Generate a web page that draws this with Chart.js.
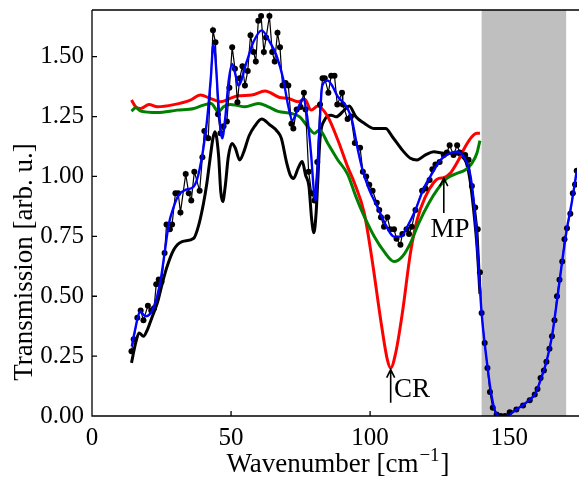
<!DOCTYPE html>
<html>
<head>
<meta charset="utf-8">
<script src="https://cdn.jsdelivr.net/npm/chart.js@4.4.0/dist/chart.umd.min.js"></script>
<style>
  html, body { margin: 0; padding: 0; background: #fff; }
  #wrap { width: 581px; height: 479px; }
</style>
</head>
<body>
<div id="wrap"><canvas id="chart" width="581" height="479"></canvas></div>
<script>
// measured points (black dots)
const rawX = [14.2, 15.0, 16.3, 17.5, 18.5, 20.1, 21.3, 22.3, 23.1, 24.0, 25.0, 26.1, 26.8, 28.0, 28.8, 30.0, 31.0, 31.8,
  33.7, 34.8, 35.7, 36.8, 38.7, 39.7, 40.4, 41.8, 43.5, 44.4, 45.3, 46.2, 47.3, 48.5, 49.4, 50.4, 51.4, 52.3, 53.1,
  54.1, 55.0, 56.0, 57.0, 58.1, 58.9, 59.8, 60.8, 61.8, 62.6, 63.8, 64.8, 65.7, 66.7, 67.6, 68.5, 69.6, 70.6, 71.7,
  72.4, 73.6, 75.0, 76.2, 76.8, 77.9, 79.0, 80.0, 81.0, 82.0, 82.9, 83.7, 85.0, 86.0, 87.2, 88.2, 89.9, 90.2, 91.9,
  93.1, 94.5, 96.4, 97.4, 98.6, 99.7, 100.9, 102.4, 103.3, 103.9, 105.0, 106.2, 107.2, 108.6, 109.5, 110.9, 111.6,
  113.1, 114.0, 115.0, 116.3, 118.7, 119.9, 121.4, 122.4, 123.5, 125.0, 126.5, 127.6, 128.6, 130.0, 131.3, 132.2,
  134.2, 135.4, 136.6, 137.8, 138.7, 139.5, 140.1, 141.2, 142.2, 143.1, 144.1, 145.5, 147.0, 148.5, 150.2, 152.6,
  155.0, 157.4, 159.2, 160.2, 161.3, 162.5, 163.4, 164.5, 165.4, 166.3, 167.2, 168.1, 169.1, 169.9, 170.8, 172.0,
  172.9, 173.7, 174.3];
const rawY = [0.27, 0.32, 0.41, 0.44, 0.40, 0.46, 0.44, 0.45, 0.55, 0.57, 0.56, 0.68, 0.80, 0.78, 0.80, 0.93, 0.93, 0.85,
  1.01, 0.93, 0.90, 1.02, 0.94, 1.08, 1.19, 1.16, 1.61, 1.56, 1.26, 1.18, 1.21, 1.23, 1.37, 1.54, 1.45, 1.31, 1.41,
  1.46, 1.38, 1.44, 1.59, 1.52, 1.48, 1.65, 1.67, 1.52, 1.58, 1.67, 1.52, 1.48, 1.60, 1.54, 1.38, 1.39, 1.38, 1.22,
  1.20, 1.28, 1.29, 1.35, 1.28, 1.02, 0.93, 0.90, 1.06, 1.30, 1.41, 1.41, 1.35, 1.42, 1.42, 1.30, 1.35, 1.30, 1.24,
  1.25, 1.14, 1.12, 1.02, 1.00, 0.965, 0.94, 0.89, 0.86, 0.83, 0.79, 0.83, 0.78, 0.78, 0.74, 0.715, 0.76,
  0.78, 0.76, 0.79, 0.86, 0.94, 0.95, 0.985, 1.03, 1.05, 1.06, 1.09, 1.10, 1.13, 1.09, 1.13, 1.10,
  1.09, 1.07, 0.96, 0.87, 0.78, 0.60, 0.43, 0.305, 0.20, 0.10, 0.034, 0.006, 0.0, 0.0, 0.016, 0.027,
  0.044, 0.066, 0.09, 0.113, 0.159, 0.19, 0.226, 0.281, 0.333, 0.40, 0.50, 0.569, 0.645, 0.738, 0.784, 0.844,
  0.93, 0.967, 1.024];

// smooth fit (blue)
const fitX = [14.3, 15.5, 17.3, 19.3, 22.3, 24.7, 26.1, 27.6, 29.4, 31.2, 33.6, 36.6, 38.7, 41.3, 42.8, 43.6, 44.3,
  45.5, 46.8, 47.9, 49.1, 50.4, 51.5, 52.6, 55.6, 58.0, 61.0, 64.0, 66.3, 68.7, 70.5, 72.0, 74.1, 75.9, 77.3, 78.8,
  79.8, 80.4, 81.6, 82.8, 84.8, 86.6, 88.4, 90.1, 91.9, 93.5, 95.5, 97.3, 99.7, 102.6, 105.6, 108.6, 111.0, 113.4,
  116.3, 119.3, 122.3, 125.3, 128.8, 131.2, 133.6, 135.9, 137.2, 139.0, 140.1, 141.9, 143.7, 145.5, 147.5, 150.0,
  152.6, 155.0, 157.4, 159.5, 161.3, 163.4, 165.4, 167.2, 169.0, 170.8, 172.5, 174.3];
const fitY = [0.29, 0.36, 0.437, 0.416, 0.457, 0.569, 0.68, 0.80, 0.874, 0.923, 0.944, 0.958, 1.03, 1.228, 1.423, 1.55, 1.506,
  1.298, 1.159, 1.242, 1.395, 1.47, 1.43, 1.38, 1.478, 1.56, 1.61, 1.56, 1.506, 1.41, 1.298, 1.235, 1.284, 1.326, 1.256, 1.09,
  0.937, 0.90, 1.159, 1.38, 1.40, 1.374, 1.333, 1.312, 1.284, 1.235, 1.117, 1.027, 0.944, 0.874, 0.798, 0.749, 0.749, 0.791,
  0.86, 0.951, 1.013, 1.069, 1.097, 1.103, 1.083, 1.013, 0.902, 0.624, 0.43, 0.235, 0.083, 0.006, -0.005, 0.005,
  0.027, 0.046, 0.068, 0.095, 0.15, 0.226, 0.333, 0.48, 0.64, 0.784, 0.89, 1.024];

// black thick curve
const refX = [14.2, 15.7, 16.9, 18.5, 19.9, 21.7, 23.5, 25.3, 27.0, 29.4, 32.4, 36.6, 38.4, 40.1, 41.3, 42.3, 43.5, 44.2,
  45.5, 46.3, 47.0, 47.9, 49.0, 50.3, 51.5, 53.1, 54.5, 56.5, 58.5, 61.0, 64.0, 66.5, 68.1, 69.9, 71.3, 72.5, 74.1,
  75.6, 76.8, 78.0, 79.0, 79.8, 80.6, 81.2, 82.0, 83.6, 86.0, 87.8, 90.7, 92.5, 94.9, 97.9, 101.5, 105.6, 108.0,
  111.6, 114.5, 116.9, 119.9, 122.9, 126.5, 130.0, 133.0, 134.5, 136.0, 137.5, 138.5, 139.5];
const refY = [0.222, 0.305, 0.347, 0.333, 0.36, 0.416, 0.472, 0.555, 0.624, 0.694, 0.728, 0.742, 0.798, 0.888, 0.972, 1.06, 1.16, 1.187,
  1.09, 0.937, 0.895, 0.958, 1.08, 1.138, 1.12, 1.069, 1.10, 1.17, 1.21, 1.24, 1.215, 1.19, 1.159, 1.062, 1.006, 0.992, 1.034,
  1.062, 1.006, 0.96, 0.82, 0.765, 0.85, 0.985, 1.159, 1.235, 1.256, 1.249, 1.277, 1.294, 1.249, 1.222, 1.20, 1.20, 1.166,
  1.11, 1.076, 1.069, 1.09, 1.103, 1.097, 1.097, 1.083, 1.06, 0.98, 0.83, 0.70, 0.51];

// red curve
const redX = [14.2, 15.7, 17.5, 20.5, 23.5, 29.4, 35.4, 39.0, 42.5, 46.1, 49.7, 52.6, 57.4, 62.2, 67.5, 70.5, 74.1, 76.5,
  78.8, 81.2, 84.8, 88.4, 91.9, 94.3, 97.9, 100.9, 103.8, 106.2, 107.4, 109.2, 111.6, 114.5, 116.9, 119.9, 122.9,
  124.7, 126.5, 128.8, 131.8, 134.2, 136.6, 138.4, 139.5];
const redY = [1.319, 1.291, 1.284, 1.30, 1.291, 1.30, 1.319, 1.34, 1.326, 1.312, 1.326, 1.337, 1.34, 1.357, 1.33, 1.326, 1.312, 1.322,
  1.277, 1.294, 1.249, 1.152, 1.041, 0.975, 0.847, 0.638, 0.402, 0.235, 0.20, 0.263, 0.43, 0.68, 0.819, 0.916, 0.975,
  0.992, 0.995, 1.013, 1.069, 1.124, 1.166, 1.18, 1.18];

// green curve
const greenX = [14.2, 15.7, 17.5, 23.5, 30.6, 36.6, 40.1, 42.8, 45.5, 47.3, 49.7, 51.5, 55.0, 59.8, 63.4, 66.9, 71.7,
  74.7, 77.6, 80.0, 81.8, 84.8, 88.4, 91.9, 94.9, 97.9, 101.5, 105.0, 108.6, 111.6, 114.5, 117.5, 121.1, 124.1,
  127.6, 131.2, 134.2, 136.6, 138.4, 139.5];
const greenY = [1.273, 1.287, 1.273, 1.267, 1.277, 1.284, 1.298, 1.305, 1.27, 1.291, 1.30, 1.298, 1.291, 1.305, 1.291, 1.272, 1.263,
  1.249, 1.208, 1.18, 1.194, 1.138, 1.069, 1.01, 0.916, 0.833, 0.749, 0.687, 0.645, 0.666, 0.722, 0.805, 0.888, 0.944,
  0.992, 1.013, 1.027, 1.055, 1.097, 1.15];

// shaded range and annotations
const bandRange = [140.1, 170.5];
const noteLabels = ['CR', 'MP'];
const arrowX = [107.4, 126.5];
const arrowFrom = [0.055, 0.847];
const arrowTo = [0.194, 0.993];
const noteX = [108.6, 121.7];
const noteY = [0.081, 0.749];

const xTicks = [0, 50, 100, 150];
const yTicks = [0, 0.25, 0.5, 0.75, 1.0, 1.25, 1.5];

const serif = '"Liberation Serif", "DejaVu Serif", serif';
const pts = (xs, ys) => xs.map((x, i) => ({x: x, y: ys[i]}));

const decor = {
  id: 'decor',
  beforeDatasetsDraw(chart) {
    const {ctx, chartArea: a, scales: {x}} = chart;
    const x0 = x.getPixelForValue(bandRange[0]);
    const x1 = x.getPixelForValue(bandRange[1]);
    ctx.save();
    ctx.fillStyle = '#bfbfbf';
    ctx.fillRect(x0, a.top, x1 - x0, a.bottom - a.top);
    ctx.restore();
  },
  afterDatasetsDraw(chart) {
    const {ctx, scales: {x, y}} = chart;
    ctx.save();
    ctx.strokeStyle = '#000';
    ctx.fillStyle = '#000';
    ctx.lineWidth = 1.6;
    noteLabels.forEach((t, i) => {
      const px = x.getPixelForValue(arrowX[i]);
      const y0 = y.getPixelForValue(arrowFrom[i]);
      const y1 = y.getPixelForValue(arrowTo[i]);
      ctx.beginPath();
      ctx.moveTo(px, y0);
      ctx.lineTo(px, y1);
      ctx.moveTo(px - 4, y1 + 8);
      ctx.lineTo(px, y1);
      ctx.lineTo(px + 4, y1 + 8);
      ctx.stroke();
      ctx.font = '27px ' + serif;
      ctx.textAlign = 'left';
      ctx.textBaseline = 'alphabetic';
      ctx.fillText(t, x.getPixelForValue(noteX[i]), y.getPixelForValue(noteY[i]));
    });
    ctx.restore();
  },
  afterDraw(chart) {
    const {ctx, chartArea: a, scales: {x, y}} = chart;
    ctx.save();
    ctx.strokeStyle = '#000';
    ctx.lineWidth = 1.3;
    ctx.beginPath();
    ctx.moveTo(a.left, a.top);
    ctx.lineTo(a.right + 2, a.top);
    ctx.moveTo(a.left, a.top);
    ctx.lineTo(a.left, a.bottom);
    ctx.lineTo(a.right + 2, a.bottom);
    // inward ticks
    xTicks.forEach(v => {
      const px = x.getPixelForValue(v);
      ctx.moveTo(px, a.bottom);
      ctx.lineTo(px, a.bottom - 5);
    });
    yTicks.forEach(v => {
      const py = y.getPixelForValue(v);
      ctx.moveTo(a.left, py);
      ctx.lineTo(a.left + 5, py);
    });
    ctx.stroke();

    // axis titles
    ctx.fillStyle = '#000';
    ctx.textBaseline = 'middle';
    ctx.save();
    ctx.translate(25, 262);
    ctx.rotate(-Math.PI / 2);
    ctx.font = '27px ' + serif;
    ctx.textAlign = 'center';
    ctx.fillText('Transmission [arb. u.]', 0, 0);
    ctx.restore();

    const main = 'Wavenumber [cm', sup = '\u22121', tail = ']';
    ctx.font = '27px ' + serif;
    const w1 = ctx.measureText(main).width, w3 = ctx.measureText(tail).width;
    ctx.font = '19px ' + serif;
    const w2 = ctx.measureText(sup).width;
    let cx = 338 - (w1 + w2 + w3 + 2) / 2;
    const by = 472;
    ctx.textAlign = 'left';
    ctx.textBaseline = 'alphabetic';
    ctx.font = '27px ' + serif;
    ctx.fillText(main, cx, by);
    cx += w1 + 1;
    ctx.font = '19px ' + serif;
    ctx.fillText(sup, cx, by - 11);
    cx += w2 + 1;
    ctx.font = '27px ' + serif;
    ctx.fillText(tail, cx, by);
    ctx.restore();
  }
};

new Chart(document.getElementById('chart').getContext('2d'), {
  type: 'scatter',
  data: {
    datasets: [
      {
        data: pts(fitX, fitY), showLine: true, borderColor: '#0000ff', borderWidth: 2.4,
        pointRadius: 0, cubicInterpolationMode: 'monotone'
      },
      {
        data: pts(rawX, rawY), showLine: true, borderColor: '#000', borderWidth: 1.2,
        pointRadius: 3, pointBackgroundColor: '#000', pointBorderWidth: 0
      },
      {
        data: pts(greenX, greenY), showLine: true, borderColor: '#008000', borderWidth: 3,
        pointRadius: 0, cubicInterpolationMode: 'monotone'
      },
      {
        data: pts(redX, redY), showLine: true, borderColor: '#ff0000', borderWidth: 3,
        pointRadius: 0, cubicInterpolationMode: 'monotone'
      },
      {
        data: pts(refX, refY), showLine: true, borderColor: '#000', borderWidth: 3,
        pointRadius: 0, cubicInterpolationMode: 'monotone'
      }
    ]
  },
  options: {
    responsive: false,
    animation: false,
    layout: { padding: { top: 10, right: 0, left: 0, bottom: 0 } },
    plugins: { legend: { display: false }, tooltip: { enabled: false } },
    scales: {
      x: {
        type: 'linear', min: 0, max: 174.4,
        afterFit: s => { s.height = 63; s.paddingLeft = 0; s.paddingRight = 0; },
        afterBuildTicks: s => { s.ticks = xTicks.map(v => ({value: v})); },
        grid: { display: false, drawTicks: false },
        border: { display: false },
        ticks: { color: '#000', font: { family: serif, size: 25 }, padding: 7, maxRotation: 0 }
      },
      y: {
        min: 0, max: 1.695,
        afterFit: s => { s.width = 92; s.paddingTop = 0; s.paddingBottom = 0; },
        afterBuildTicks: s => { s.ticks = yTicks.map(v => ({value: v})); },
        grid: { display: false, drawTicks: false },
        border: { display: false },
        ticks: { color: '#000', font: { family: serif, size: 25 }, padding: 8, callback: v => v.toFixed(2) }
      }
    }
  },
  plugins: [decor]
});
</script>
</body>
</html>
